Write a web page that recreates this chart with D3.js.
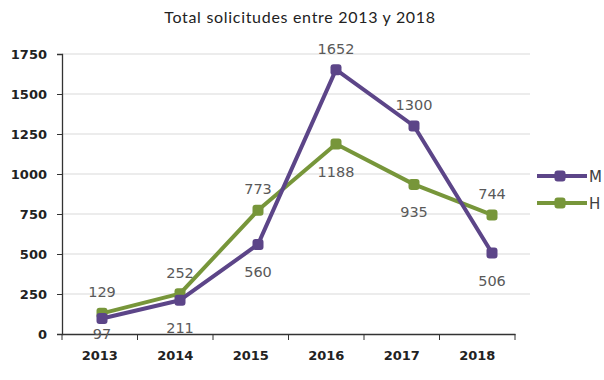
<!DOCTYPE html>
<head>
  <meta charset="utf-8">
  <style>
    body { margin: 0; background: #fff; }
  </style>
</head>
<body>
  <div id="chart"></div>
  <script src="https://d3js.org/d3.v7.min.js"></script>
  <script>
    var years = ["2013", "2014", "2015", "2016", "2017", "2018"];
    var valuesM = [97, 211, 560, 1652, 1300, 506];
    var valuesH = [129, 252, 773, 1188, 935, 744];
    var yTicks = [0, 250, 500, 750, 1000, 1250, 1500, 1750];
    var seriesNames = ["M", "H"];

    var width = 604, height = 380;
    var colorM = "#5c4588", colorH = "#77963a";

    var svg = d3.select("#chart").append("svg")
      .attr("width", width)
      .attr("height", height)
      .style("font-family", "DejaVu Sans");

    // axis band scale and a slightly wider point scale for the marks (as in the original)
    var xBand = d3.scaleBand().domain(years).range([62, 515]);
    var x = d3.scalePoint().domain(years).range([102, 492]);
    var y = d3.scaleLinear().domain([0, 1750]).range([334, 54]);

    svg.append("text")
      .attr("x", 300)
      .attr("y", 23)
      .attr("text-anchor", "middle")
      .attr("font-family", "Lato")
      .attr("font-size", "16px")
      .attr("letter-spacing", "0.7px")
      .attr("fill", "#222")
      .text("Total solicitudes entre 2013 y 2018");

    // gridlines
    svg.append("g")
      .selectAll("line")
      .data(yTicks.slice(1))
      .enter().append("line")
        .attr("x1", 62).attr("x2", 530)
        .attr("y1", function(d) { return y(d); })
        .attr("y2", function(d) { return y(d); })
        .style("stroke", "#d9d9d9")
        .style("stroke-width", 1);

    var yAxis = svg.append("g")
      .attr("transform", "translate(62,0)")
      .call(d3.axisLeft(y).tickValues(yTicks).tickFormat(d3.format("d")).tickSize(5).tickPadding(10));
    yAxis.select(".domain").attr("stroke", "#333").attr("stroke-width", 1.3);
    yAxis.selectAll(".tick line").attr("stroke", "#333");
    yAxis.selectAll("text")
      .attr("font-family", "DejaVu Sans")
      .attr("font-weight", "bold")
      .attr("font-size", "13px")
      .attr("fill", "#222");

    var xAxis = svg.append("g")
      .attr("transform", "translate(0,334)")
      .call(d3.axisBottom(xBand).tickSize(0).tickPadding(17));
    xAxis.select(".domain").attr("stroke", "#333").attr("stroke-width", 1.5);
    xAxis.selectAll("text")
      .attr("font-family", "DejaVu Sans")
      .attr("font-weight", "bold")
      .attr("font-size", "13px")
      .attr("fill", "#222");
    // tick marks on category boundaries
    xAxis.selectAll(".bound")
      .data(years.concat(["end"]))
      .enter().append("line")
        .attr("class", "bound")
        .attr("x1", function(d, i) { return i < years.length ? xBand(d) : xBand.range()[1]; })
        .attr("x2", function(d, i) { return i < years.length ? xBand(d) : xBand.range()[1]; })
        .attr("y1", 0).attr("y2", 6)
        .attr("stroke", "#333");

    var line = d3.line()
      .x(function(d, i) { return x(years[i]); })
      .y(function(d) { return y(d); });

    function drawSeries(values, color) {
      svg.append("path")
        .datum(values)
        .attr("d", line)
        .attr("fill", "none")
        .attr("stroke", color)
        .attr("stroke-width", 4)
        .attr("stroke-linejoin", "round");
      svg.append("g").selectAll("rect")
        .data(values)
        .enter().append("rect")
          .attr("x", function(d, i) { return x(years[i]) - 5.5; })
          .attr("y", function(d) { return y(d) - 5.5; })
          .attr("width", 11).attr("height", 11)
          .attr("rx", 3)
          .attr("fill", color);
    }
    drawSeries(valuesH, colorH);
    drawSeries(valuesM, colorM);

    // data labels: the larger value above, the smaller one below (kept off the axis labels)
    function drawLabels(values, other) {
      svg.append("g").selectAll("text")
        .data(values)
        .enter().append("text")
          .attr("x", function(d, i) { return x(years[i]); })
          .attr("y", function(d, i) {
            return d >= other[i] ? y(d) - 16 : Math.min(y(d) + 33, 339);
          })
          .attr("text-anchor", "middle")
          .attr("font-size", "14.5px")
          .attr("fill", "#595959")
          .text(function(d) { return d; });
    }
    drawLabels(valuesM, valuesH);
    drawLabels(valuesH, valuesM);

    // legend
    var legend = svg.append("g")
      .selectAll("g")
      .data(seriesNames)
      .enter().append("g")
        .attr("transform", function(d, i) { return "translate(0," + (176 + i * 27) + ")"; });
    legend.append("line")
      .attr("x1", 537).attr("x2", 587)
      .attr("stroke", function(d, i) { return i == 0 ? colorM : colorH; })
      .attr("stroke-width", 4);
    legend.append("rect")
      .attr("x", 554.5).attr("y", -5.5)
      .attr("width", 11).attr("height", 11).attr("rx", 3)
      .attr("fill", function(d, i) { return i == 0 ? colorM : colorH; });
    legend.append("text")
      .attr("x", 589).attr("y", 6)
      .attr("font-size", "15px")
      .attr("fill", "#404040")
      .text(function(d) { return d; });
  </script>
</body>
